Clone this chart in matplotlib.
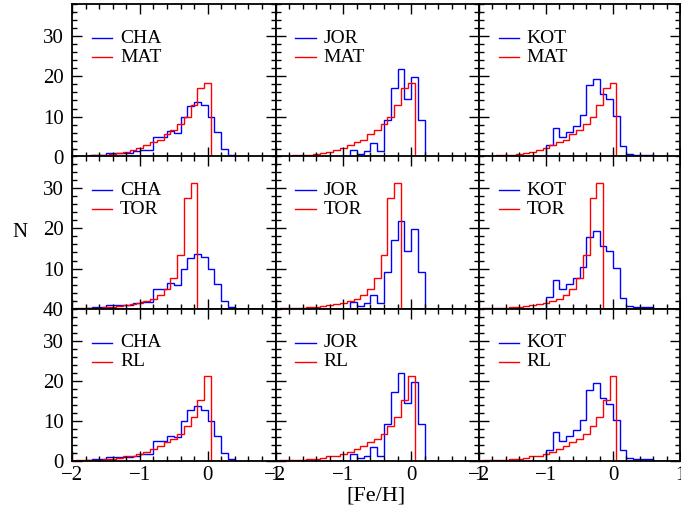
import numpy as np
import matplotlib
matplotlib.use('Agg')
import matplotlib.pyplot as plt
from matplotlib.ticker import MultipleLocator

plt.rcParams['font.family'] = ['Liberation Serif', 'DejaVu Serif']

# ── data: observed samples (blue), bins of 0.1 dex from -2.0 to 1.0 ──────────
obs_edges = np.round(np.arange(-2.0, 1.0001, 0.1), 2)
cha = [0, 0, 0.2, 0.4, 0.5, 0.9, 0.9, 0.9, 0.9, 1.3, 1.75, 1.75,
       4.9, 5.0, 6.3, 5.9, 10.0, 12.6, 13.6, 12.75, 10.0, 6.2, 2.0, 0.5,
       0, 0, 0, 0, 0, 0]
jor = [0, 0, 0, 0, 0, 0, 0, 0, 0, 0, 0,
       1.75, 0.7, 1.3, 3.4, 1.3, 9.1, 17.2, 21.9, 14.4, 19.8, 9.25,
       0, 0, 0, 0, 0, 0, 0, 0]
kot = [0, 0, 0, 0, 0, 0, 0, 0, 0, 0,
       2.8, 7.2, 4.9, 6.1, 7.6, 10.3, 17.75, 19.4, 15.6, 14.25, 10.25,
       2.6, 0.75, 0.4, 0.4, 0.4, 0, 0, 0, 0]

# ── data: models (red), bins centred on -2.0 ... 1.0 ─────────────────────────
mod_edges = np.round(np.arange(-2.05, 1.0501, 0.1), 2)
mat = [0.05, 0.1, 0.2, 0.3, 0.4, 0.5, 0.7, 0.9, 1.25, 1.6, 2.25, 2.8,
       3.6, 4.25, 5.7, 6.75, 8.25, 9.9, 12.75, 17.2, 18.4] + [0] * 10
tor = [0.02, 0.05, 0.1, 0.2, 0.25, 0.35, 0.45, 0.6, 0.8, 1.1, 1.4, 1.8,
       2.5, 3.5, 4.9, 7.7, 13.3, 27.5, 31.4] + [0] * 12
rl = [0.05, 0.1, 0.15, 0.2, 0.3, 0.4, 0.5, 0.75, 1.1, 1.3, 1.75, 2.3,
      3.0, 3.75, 4.6, 5.4, 6.7, 8.6, 10.9, 15.3, 21.2] + [0] * 10

obs_names = ["CHA", "JOR", "KOT"]
obs_vals = [cha, jor, kot]
mod_names = ["MAT", "TOR", "RL"]
mod_vals = [mat, tor, rl]

x_ticks = [-2, -1, 0, 1]
y_ticks = [0, 10, 20, 30]

W, H = 681, 514
fig = plt.figure(figsize=(W / 100, H / 100), dpi=100)

col_left = [72, 275.5, 479]
col_w = [203.5, 203.5, 201]
row_top = [4.3, 156.3, 308.6]
row_h = 152.3

for r in range(3):
    for c in range(3):
        ax = fig.add_axes([col_left[c] / W, 1 - (row_top[r] + row_h) / H,
                           col_w[c] / W, row_h / H])
        ax.stairs(obs_vals[c], obs_edges, color='#0000ff', lw=1.0)
        ax.stairs(mod_vals[r], mod_edges, color='#ff0000', lw=1.0)
        ax.set_xlim(-2, 1)
        ax.set_ylim(0, 38)

        # legend keys
        ax.plot([0.098, 0.197], [0.776, 0.776], color='#0000ff', lw=1.0,
                transform=ax.transAxes)
        ax.plot([0.098, 0.197], [0.651, 0.651], color='#ff0000', lw=1.0,
                transform=ax.transAxes)
        ax.text(0.236, 0.776, obs_names[c], transform=ax.transAxes,
                fontsize=14, va='center', ha='left')
        ax.text(0.236, 0.651, mod_names[r], transform=ax.transAxes,
                fontsize=14, va='center', ha='left')

        ax.set_xticks(x_ticks)
        ax.set_yticks(y_ticks)
        ax.xaxis.set_minor_locator(MultipleLocator(0.2))
        ax.yaxis.set_minor_locator(MultipleLocator(2))
        ax.tick_params(which='both', direction='in', top=True, right=True,
                       width=1.0, labelsize=15)
        ax.tick_params(which='major', length=7, pad=6)
        ax.tick_params(axis='x', which='major', pad=4)
        ax.tick_params(which='minor', length=3.5)
        for s in ax.spines.values():
            s.set_linewidth(1.3)

        if r == 2:
            ax.set_xticklabels(['\u22122', '\u22121', '0', '1'])
        else:
            ax.set_xticklabels([])
        if c == 0:
            if r == 1:
                ax.set_yticklabels(['40', '10', '20', '30'])
            else:
                ax.set_yticklabels(['0', '10', '20', '30'])
        else:
            ax.set_yticklabels([])

fig.text(20 / W, 1 - 233 / H, 'N', fontsize=15, ha='center', va='center')
fig.text(376 / W, 1 - 496 / H, '[Fe/H]', fontsize=16, ha='center', va='center')

fig.savefig('out.png', dpi=100)
